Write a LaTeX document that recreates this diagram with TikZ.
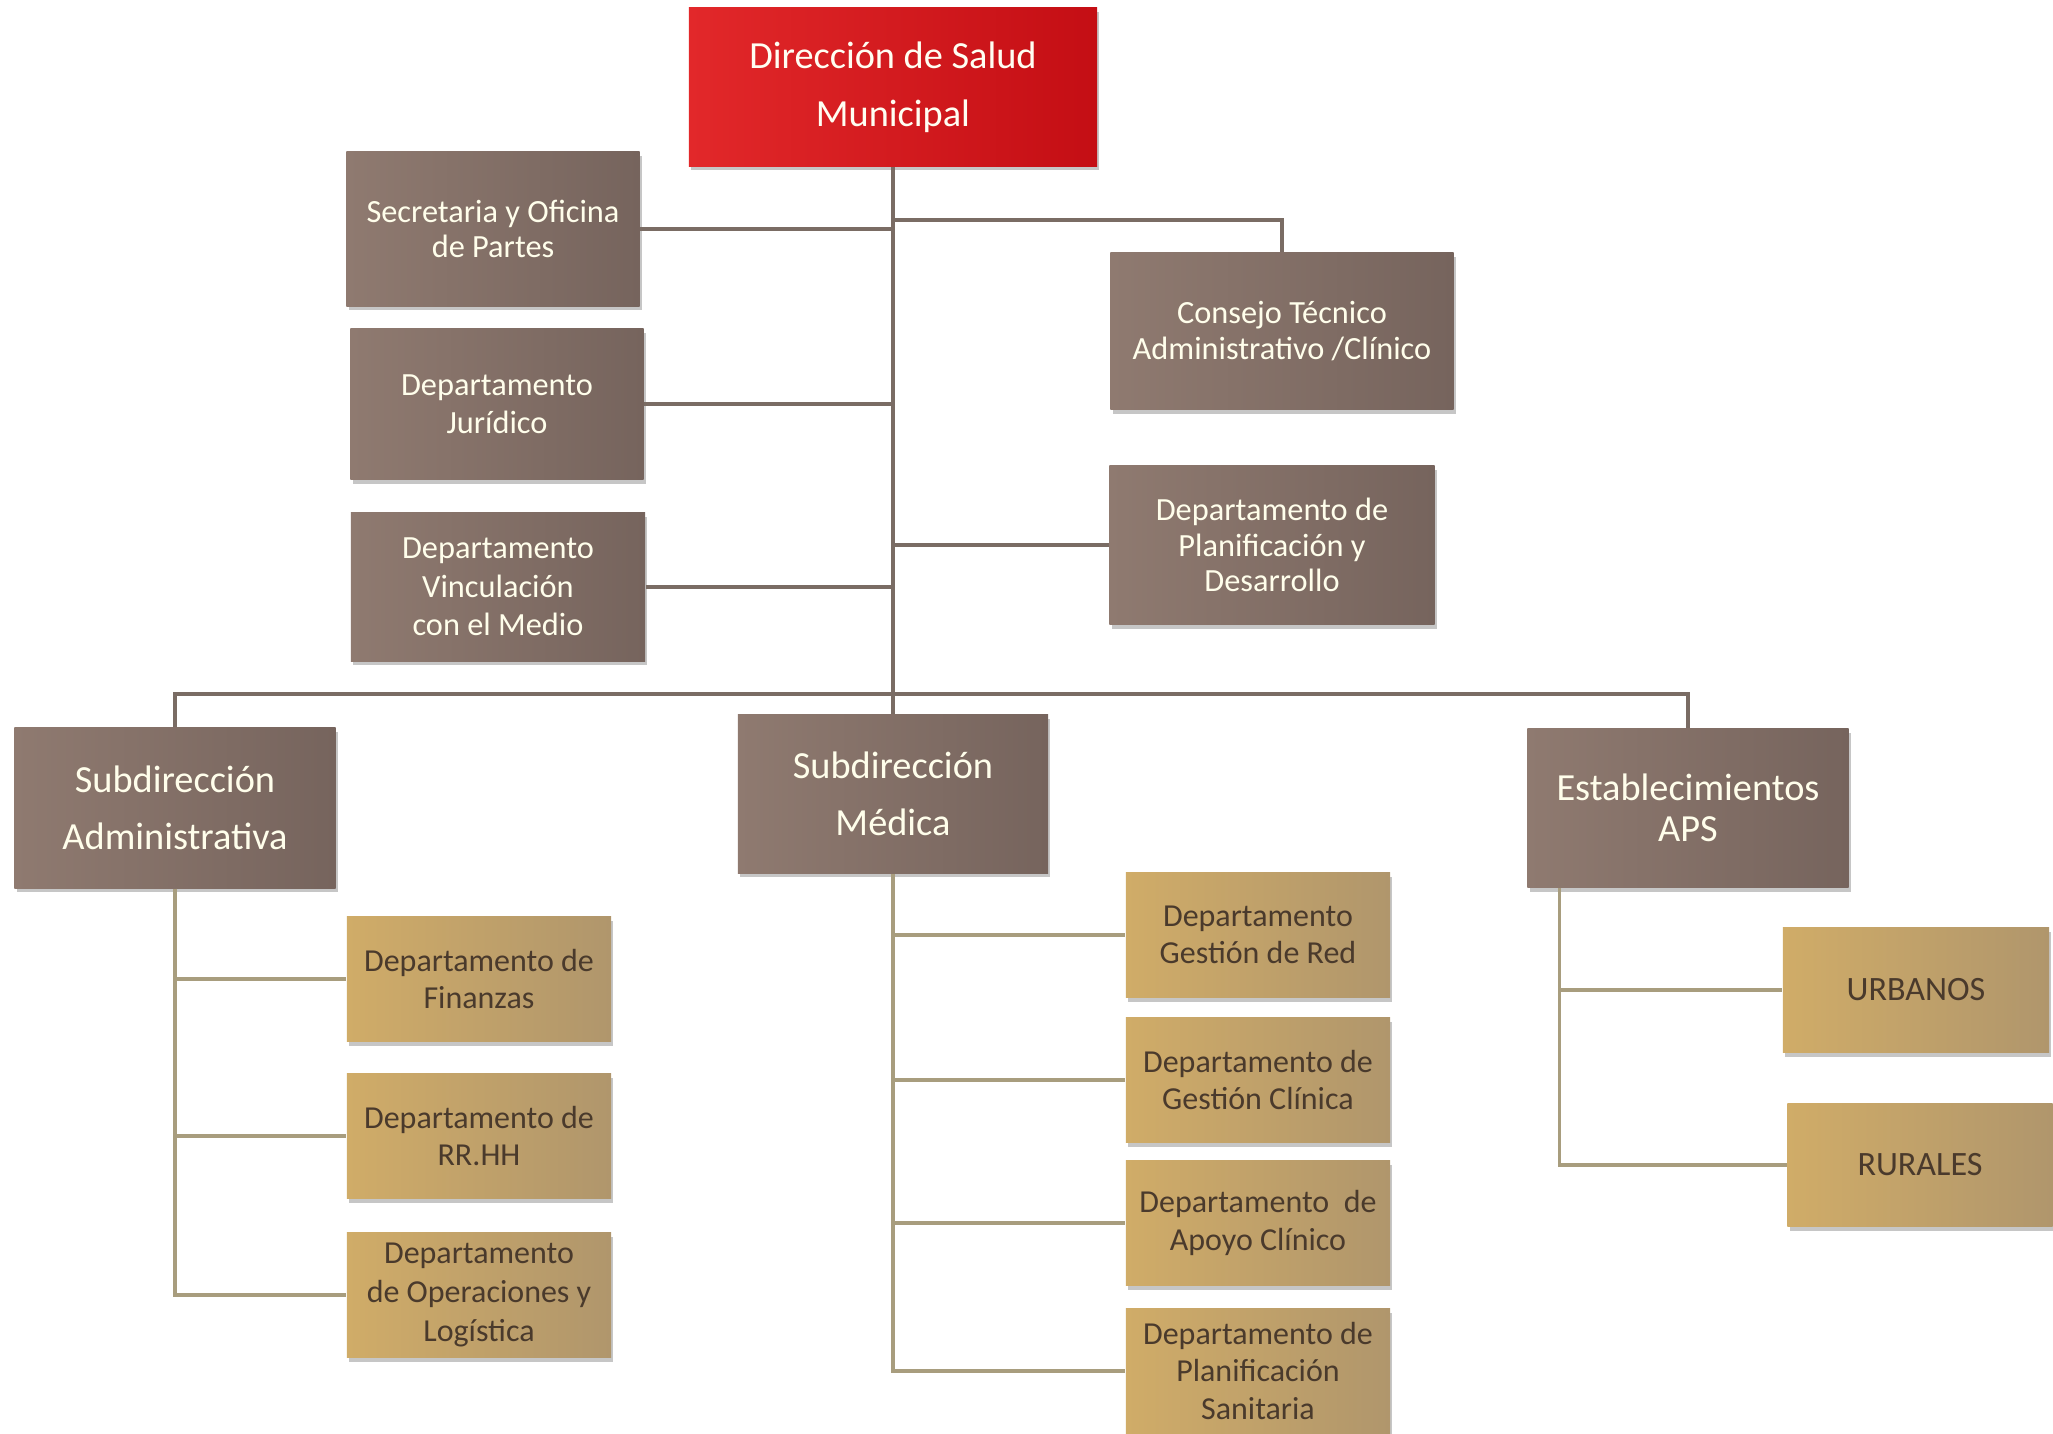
\documentclass[tikz,border=0pt]{standalone}
\usepackage{fontspec}
\setmainfont{Carlito}
\usetikzlibrary{shadows}

\definecolor{rojo}{RGB}{196,14,20}
\definecolor{rojoclaro}{RGB}{226,40,42}
\definecolor{marron}{RGB}{118,100,93}
\definecolor{marronclaro}{RGB}{143,122,112}
\definecolor{oro}{RGB}{176,150,108}
\definecolor{oroclaro}{RGB}{208,172,104}
\definecolor{lineaosc}{RGB}{122,108,100}
\definecolor{lineaoro}{RGB}{168,157,126}
\definecolor{textooro}{RGB}{74,58,44}

\tikzset{
  caja/.style={rectangle, align=center, inner sep=2pt,
    drop shadow={opacity=0.45, shadow xshift=0.6pt, shadow yshift=-1.2pt}},
  jefe/.style={caja, left color=rojoclaro, right color=rojo, text=white!95!yellow,
    font=\fontsize{10.9}{16.4}\selectfont},
  unidad/.style={caja, left color=marronclaro, right color=marron, text=white!92!yellow,
    font=\fontsize{9.2}{10.2}\selectfont},
  subdir/.style={unidad, font=\fontsize{10.9}{16.4}\selectfont},
  depto/.style={caja, left color=oroclaro, right color=oro, text=textooro,
    minimum width=2.64cm, minimum height=1.25cm,
    font=\fontsize{9.1}{10.6}\selectfont},
  linea/.style={draw=lineaosc, line width=0.9pt},
  lineab/.style={draw=lineaoro, line width=0.9pt}
}

\begin{document}
\begin{tikzpicture}[x=0.01cm, y=-0.01cm]
  \useasboundingbox (0,0) rectangle (2053,1434);

  %% puntos del tronco
  \coordinate (tronco) at (893,166);
  \coordinate (barra) at (893,694);
  \coordinate (ramacons) at (893,220);

  %% direccion
  \node[jefe, minimum width=4.08cm, minimum height=1.58cm] (dir) at (893,87)
    {Dirección de Salud\\Municipal};

  %% staff izquierda
  \node[unidad, minimum width=2.93cm, minimum height=1.54cm] (secre) at (493,229)
    {Secretaria y Oficina\\de Partes};
  \node[unidad, minimum width=2.93cm, minimum height=1.51cm,
    font=\fontsize{9.2}{10.9}\selectfont] (jur) at (497,404)
    {Departamento\\Jurídico};
  \node[unidad, minimum width=2.94cm, minimum height=1.48cm,
    font=\fontsize{9.2}{11}\selectfont] (vinc) at (498,587)
    {Departamento\\Vinculación\\con el Medio};

  %% staff derecha
  \node[unidad, minimum width=3.43cm, minimum height=1.57cm] (cons) at (1282,331)
    {Consejo Técnico\\Administrativo /Clínico};
  \node[unidad, minimum width=3.25cm, minimum height=1.59cm] (plandes) at (1272,545)
    {Departamento de\\Planificación y\\Desarrollo};

  %% subdirecciones
  \node[subdir, minimum width=3.21cm, minimum height=1.60cm] (adm) at (175,808)
    {Subdirección\\Administrativa};
  \node[subdir, minimum width=3.10cm, minimum height=1.58cm] (med) at (893,794)
    {Subdirección\\Médica};
  \node[subdir, minimum width=3.21cm, minimum height=1.59cm,
    font=\fontsize{10.9}{11.6}\selectfont] (aps) at (1688,808)
    {Establecimientos\\APS};

  %% departamentos administrativos
  \node[depto] (fin) at (479,979) {Departamento de\\Finanzas};
  \node[depto] (rrhh) at (479,1136) {Departamento de\\RR.HH};
  \node[depto, font=\fontsize{9.1}{11}\selectfont] (ope) at (479,1295)
    {Departamento\\de Operaciones y\\Logística};

  %% departamentos medicos
  \node[depto] (red) at (1258,935) {Departamento\\Gestión de Red};
  \node[depto] (gclin) at (1258,1080) {Departamento de\\Gestión Clínica};
  \node[depto] (apoyo) at (1258,1223) {Departamento~ de\\Apoyo Clínico};
  \node[depto] (plansan) at (1258,1371) {Departamento de\\Planificación\\Sanitaria};

  %% establecimientos
  \node[depto, minimum width=2.66cm, font=\fontsize{9.7}{11}\selectfont] (urb) at (1916,990) {URBANOS};
  \node[depto, minimum width=2.65cm, minimum height=1.23cm,
    font=\fontsize{9.7}{11}\selectfont] (rur) at (1920,1165) {RURALES};

  %% lineas superiores
  \draw[linea] (dir.south) -- (med.north);
  \draw[linea] (secre.east) -- (secre.east -| tronco);
  \draw[linea] (jur.east) -- (jur.east -| tronco);
  \draw[linea] (vinc.east) -- (vinc.east -| tronco);
  \draw[linea] (plandes.west) -- (plandes.west -| tronco);
  \draw[linea] (ramacons) -| (cons.north);
  \draw[linea] (adm.north) |- (barra) -| (aps.north);

  %% lineas inferiores
  \draw[lineab] (adm.south) |- (fin.west);
  \draw[lineab] (adm.south |- rrhh.west) -- (rrhh.west);
  \draw[lineab] (adm.south) |- (ope.west);
  \draw[lineab] (med.south) |- (plansan.west);
  \draw[lineab] (med.south |- red.west) -- (red.west);
  \draw[lineab] (med.south |- gclin.west) -- (gclin.west);
  \draw[lineab] (med.south |- apoyo.west) -- (apoyo.west);
  \coordinate (apsx) at ([xshift=0.33cm]aps.south west);
  \draw[lineab] (apsx) |- (rur.west);
  \draw[lineab] (apsx |- urb.west) -- (urb.west);
\end{tikzpicture}
\end{document}
